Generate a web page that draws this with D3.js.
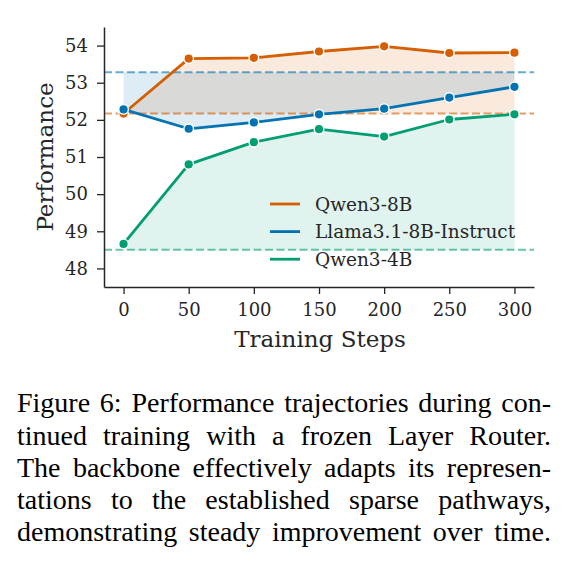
<!DOCTYPE html>
<html>
<head>
<meta charset="utf-8">
<script src="https://cdn.jsdelivr.net/npm/d3@7"></script>
<style>
  html, body { margin: 0; padding: 0; background: #fff; }
  svg { display: block; }
</style>
</head>
<body>
<div id="chart"></div>
<script>
// Data
const steps = [0, 50, 100, 150, 200, 250, 300];
const seriesNames = ['Qwen3-8B', 'Llama3.1-8B-Instruct', 'Qwen3-4B'];
const qwen8b = [52.17, 53.65, 53.67, 53.84, 53.98, 53.80, 53.81];
const llama = [52.28, 51.76, 51.93, 52.15, 52.30, 52.60, 52.89];
const qwen4b = [48.66, 50.80, 51.40, 51.75, 51.55, 52.01, 52.15];
const baselines = [52.17, 53.28, 48.50];
const xTicks = [0, 50, 100, 150, 200, 250, 300];
const yTicks = [48, 49, 50, 51, 52, 53, 54];
const captionLines = [
    'Figure 6: Performance trajectories during con-',
    'tinued training with a frozen Layer Router.',
    'The backbone effectively adapts its represen-',
    'tations to the established sparse pathways,',
    'demonstrating steady improvement over time.'
];

const colors = ['#d55e00', '#0173b2', '#029e73'];
const fillAlpha = [0.13, 0.13, 0.12];
const allSeries = [qwen8b, llama, qwen4b];

const W = 572, H = 566;
const plot = { left: 104, right: 534, top: 27, bottom: 287 };
const ink = '#262626';
const chartFont = 'DejaVu Serif';

const svg = d3.select('#chart')
    .append('svg')
    .attr('width', W)
    .attr('height', H);

// scales
const x = d3.scaleLinear().domain([-15, 315]).range([plot.left, plot.right]);
const y = d3.scaleLinear().domain([47.5, 54.5]).range([plot.bottom, plot.top]);

const points = vals => steps.map((s, i) => ({ s, v: vals[i] }));

// filled bands between each series and its baseline
allSeries.forEach((vals, k) => {
    const area = d3.area()
        .x(d => x(d.s))
        .y0(y(baselines[k]))
        .y1(d => y(d.v));
    svg.append('path')
        .datum(points(vals))
        .attr('fill', colors[k])
        .attr('fill-opacity', fillAlpha[k])
        .attr('d', area);
});

// dashed baselines across the axes
baselines.forEach((b, k) => {
    svg.append('line')
        .attr('x1', plot.left).attr('x2', plot.right)
        .attr('y1', y(b)).attr('y2', y(b))
        .attr('stroke', colors[k])
        .attr('stroke-opacity', 0.6)
        .attr('stroke-width', 2)
        .attr('stroke-dasharray', '8,3.5');
});

// axes
const xAxis = svg.append('g')
    .attr('transform', `translate(0,${plot.bottom})`)
    .call(d3.axisBottom(x).tickValues(xTicks).tickFormat(d3.format('d'))
        .tickSize(7).tickPadding(9).tickSizeOuter(0));
const yAxis = svg.append('g')
    .attr('transform', `translate(${plot.left},0)`)
    .call(d3.axisLeft(y).tickValues(yTicks).tickFormat(d3.format('d'))
        .tickSize(7).tickPadding(9).tickSizeOuter(0));

[xAxis, yAxis].forEach(g => {
    g.attr('font-family', chartFont).attr('font-size', 18);
    g.select('.domain').attr('stroke', ink).attr('stroke-width', 1.5);
    g.selectAll('.tick line').attr('stroke', ink).attr('stroke-width', 1.3);
    g.selectAll('.tick text').attr('fill', ink);
});

// lines and markers
const line = d3.line().x(d => x(d.s)).y(d => y(d.v));
allSeries.forEach((vals, k) => {
    svg.append('path')
        .datum(points(vals))
        .attr('fill', 'none')
        .attr('stroke', colors[k])
        .attr('stroke-width', 2.8)
        .attr('stroke-linejoin', 'round')
        .attr('d', line);
    svg.selectAll(null)
        .data(points(vals))
        .enter()
        .append('circle')
        .attr('cx', d => x(d.s))
        .attr('cy', d => y(d.v))
        .attr('r', 4.8)
        .attr('fill', colors[k])
        .attr('stroke', '#fff')
        .attr('stroke-width', 1.4);
});

// axis labels
svg.append('text')
    .attr('x', (plot.left + plot.right) / 2 + 1)
    .attr('y', 347)
    .attr('text-anchor', 'middle')
    .attr('fill', ink)
    .attr('font-family', chartFont)
    .attr('font-size', 23)
    .text('Training Steps');

svg.append('text')
    .attr('transform', `translate(52.5,${(plot.top + plot.bottom) / 2}) rotate(-90)`)
    .attr('text-anchor', 'middle')
    .attr('fill', ink)
    .attr('font-family', chartFont)
    .attr('font-size', 23)
    .text('Performance');

// legend (no frame)
const legend = svg.append('g').attr('transform', 'translate(270,204)');
seriesNames.forEach((name, k) => {
    const row = legend.append('g').attr('transform', `translate(0,${k * 27.6})`);
    row.append('line')
        .attr('x1', 0).attr('x2', 30)
        .attr('stroke', colors[k])
        .attr('stroke-width', 2.8);
    row.append('text')
        .attr('x', 45)
        .attr('dy', '0.36em')
        .attr('fill', ink)
        .attr('font-family', chartFont)
        .attr('font-size', 18.5)
        .text(name);
});

// caption, every line justified between two edges
const capLeft = 17, capRight = 551, capTop = 412.3, capStep = 32.2;
const cap = svg.append('g')
    .attr('font-family', 'Liberation Serif')
    .attr('font-size', 28)
    .attr('fill', '#000');

captionLines.forEach((txt, li) => {
    const words = txt.split(' ');
    const yy = capTop + li * capStep;
    const nodes = words.map(w => cap.append('text').attr('y', yy).text(w));
    const widths = nodes.map(n => n.node().getComputedTextLength());
    const total = d3.sum(widths);
    const gap = (capRight - capLeft - total) / (words.length - 1);
    let cx = capLeft;
    nodes.forEach((n, i) => {
        n.attr('x', cx);
        cx += widths[i] + gap;
    });
});
</script>
</body>
</html>
